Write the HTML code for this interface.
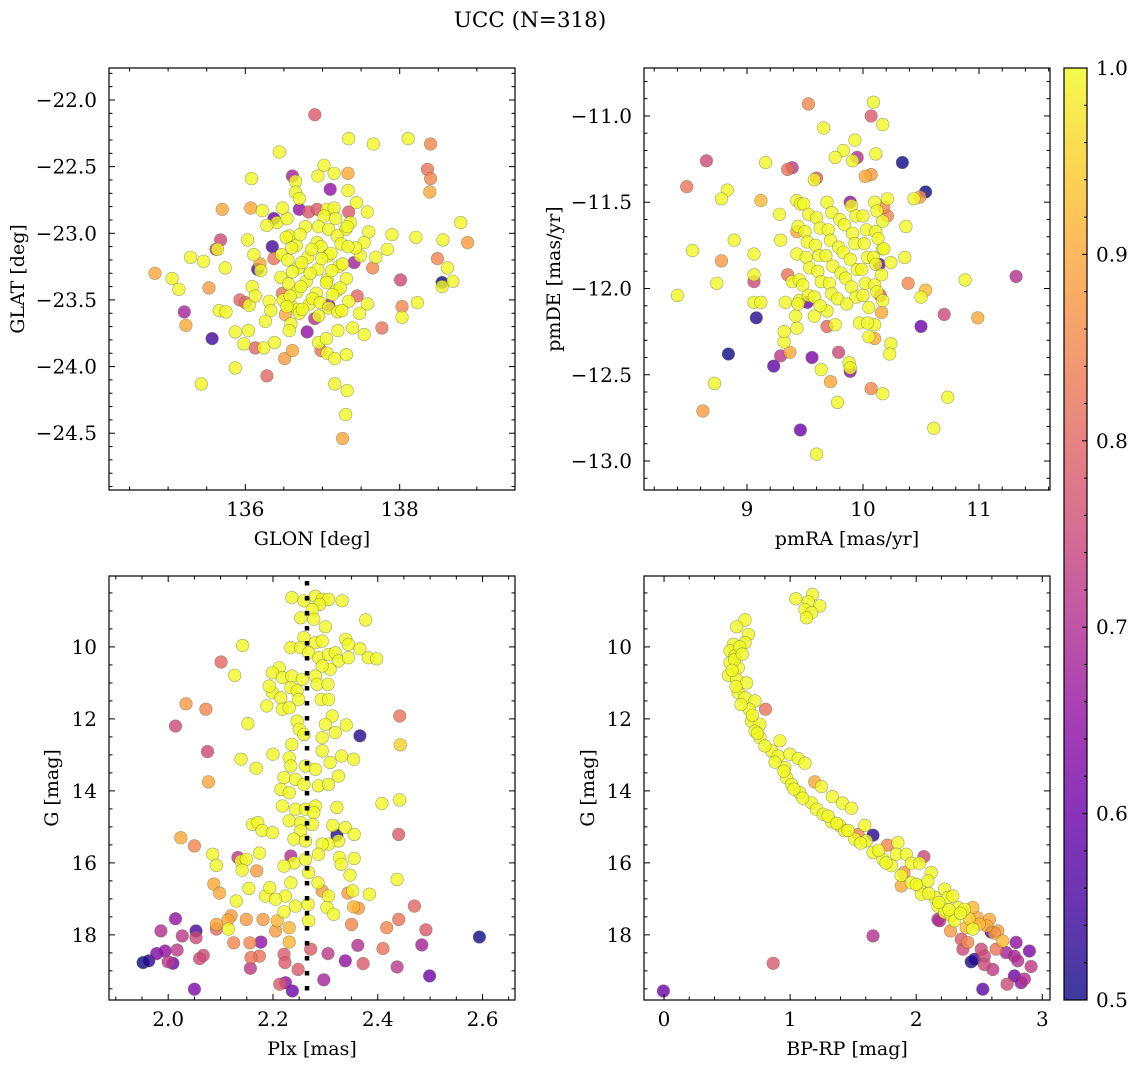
<!DOCTYPE html>
<html><head><meta charset="utf-8"><title>UCC (N=318)</title>
<style>
html,body{margin:0;padding:0;background:#fff;}
svg{display:block;font-family:"DejaVu Serif","Liberation Serif",serif;}
</style></head>
<body>
<svg id="chart" width="1136" height="1067" viewBox="0 0 1136 1067" xmlns="http://www.w3.org/2000/svg">
<defs>
<linearGradient id="plasma" x1="0" y1="1" x2="0" y2="0">
<stop offset="0" stop-color="#0d0887"/><stop offset="0.1" stop-color="#41049d"/><stop offset="0.2" stop-color="#6a00a8"/><stop offset="0.3" stop-color="#8f0da4"/><stop offset="0.4" stop-color="#b12a90"/><stop offset="0.5" stop-color="#cc4778"/><stop offset="0.6" stop-color="#e16462"/><stop offset="0.7" stop-color="#f2844b"/><stop offset="0.8" stop-color="#fca636"/><stop offset="0.9" stop-color="#fcce25"/><stop offset="1" stop-color="#f0f921"/>
</linearGradient>
</defs>
<text x="530" y="27" text-anchor="middle" font-size="21.5">UCC (N=318)</text>
</svg>
<script>
// ---------- Panel 1: GLON vs GLAT ----------
const p1Lon=[136.90,137.34,137.66,138.11,138.40,138.36,138.40,138.39,136.44,137.02,136.94,137.15,137.33,136.61,137.10,137.33,136.08,136.65,136.65,136.70,137.44,137.58,137.34,135.70,136.07,136.22,138.79,138.88,138.56,138.21,137.90,137.84,137.60,138.49,138.62,138.69,138.55,138.55,138.01,138.03,138.03,138.23,137.77,137.65,137.69,136.03,135.68,135.62,135.64,135.29,135.46,135.74,136.11,134.83,135.05,135.14,135.53,135.21,135.23,135.57,135.66,135.75,135.93,136.00,136.05,136.16,136.19,136.20,136.09,136.13,136.35,136.37,136.48,136.31,136.33,136.26,135.87,136.04,135.98,136.13,136.24,136.38,136.51,136.61,135.87,135.43,136.28,136.59,136.68,136.52,136.59,136.57,136.80,136.90,136.95,136.98,137.06,137.05,137.16,137.31,137.20,137.39,137.54,137.58,137.48,137.16,137.32,137.30,137.26,137.36,137.30,136.82,136.93,136.70,136.37,136.41,136.28,136.54,136.48,136.57,137.06,137.15,137.02,137.17,136.78,136.95,137.08,137.32,137.54,137.49,137.43,137.41,137.45,137.08,
136.53,136.66,136.71,136.93,136.98,137.19,137.24,
136.47,136.60,136.81,136.86,137.07,137.11,137.33,
136.55,136.69,136.73,136.94,136.99,137.21,137.26,
136.46,136.61,136.79,136.84,137.06,137.12,137.31,
136.56,136.67,136.72,136.92,137.05,137.18,137.23,
136.49,136.58,136.83,136.87,136.97,137.13,137.34,
136.54,136.70,136.74,136.95,137.08,137.20,137.25];
const p1Lat=[-22.11,-22.29,-22.33,-22.29,-22.33,-22.52,-22.59,-22.69,-22.39,-22.49,-22.57,-22.55,-22.55,-22.57,-22.67,-22.68,-22.59,-22.61,-22.69,-22.74,-22.77,-22.84,-22.84,-22.82,-22.81,-22.83,-22.92,-23.07,-23.05,-23.03,-23.01,-23.12,-22.99,-23.19,-23.26,-23.36,-23.37,-23.40,-23.35,-23.55,-23.63,-23.52,-23.71,-23.26,-23.18,-23.05,-23.05,-23.12,-23.12,-23.18,-23.21,-23.26,-23.16,-23.30,-23.34,-23.42,-23.41,-23.59,-23.69,-23.79,-23.58,-23.59,-23.50,-23.52,-23.54,-23.27,-23.23,-23.28,-23.40,-23.47,-23.10,-23.19,-23.45,-23.51,-23.58,-23.66,-23.74,-23.73,-23.83,-23.86,-23.86,-23.82,-23.94,-23.88,-24.01,-24.13,-24.07,-23.54,-23.57,-23.61,-23.68,-23.73,-23.74,-23.64,-23.82,-23.88,-23.90,-23.79,-23.94,-23.91,-23.73,-23.71,-23.76,-23.53,-23.60,-24.13,-24.18,-24.36,-24.54,-22.92,-22.97,-22.84,-22.82,-22.82,-22.89,-22.92,-22.94,-22.89,-22.81,-23.02,-22.82,-22.81,-22.87,-22.89,-22.95,-22.95,-22.97,-22.95,-23.07,-23.17,-23.11,-23.22,-23.47,-23.54,
-23.03,-23.09,-23.01,-23.07,-23.10,-23.02,-23.08,
-23.16,-23.11,-23.18,-23.12,-23.17,-23.15,-23.10,
-23.20,-23.26,-23.22,-23.27,-23.19,-23.25,-23.23,
-23.33,-23.29,-23.36,-23.30,-23.35,-23.28,-23.34,
-23.38,-23.44,-23.40,-23.45,-23.37,-23.43,-23.41,
-23.50,-23.47,-23.53,-23.49,-23.52,-23.46,-23.51,
-23.55,-23.60,-23.57,-23.62,-23.56,-23.59,-23.58];
const p1Prob=[.78,1,1,1,.85,.82,.85,.9,1,1,1,1,.9,.68,.65,1,1,1,1,1,1,1,.78,.9,.9,1,1,.88,1,1,1,1,1,.85,1,1,.5,1,.75,.85,1,1,.82,.85,1,1,.75,.72,1,1,1,1,1,.9,1,1,.88,.68,.9,.55,1,1,.8,.8,1,.55,.9,1,1,1,.55,.82,.82,1,1,1,1,1,1,.8,1,1,.88,.9,1,1,.8,1,1,.9,1,1,.65,.7,1,.82,1,1,1,1,1,1,1,1,1,1,1,1,.9,1,1,.78,.78,.65,.6,1,1,1,1,1,1,1,1,1,1,1,1,1,1,1,1,.68,.8,.65,
1,1,1,1,1,1,1,1,1,1,1,1,1,1,1,1,1,1,1,1,1,1,1,1,1,1,1,1,1,1,1,1,1,1,1,1,1,1,1,1,1,1,1,1,1,1,1,1,1];
const p1XTicks=[136,138];
const p1XTickLabels=['136','138'];
const p1YTicks=[-22.0,-22.5,-23.0,-23.5,-24.0,-24.5];
const p1YTickLabels=['\u221222.0','\u221222.5','\u221223.0','\u221223.5','\u221224.0','\u221224.5'];

// ---------- Panel 2: pmRA vs pmDE ----------
const p2Ra=[9.53,10.09,10.07,10.17,9.66,9.93,9.83,9.76,9.95,9.91,10.11,10.34,8.65,9.16,9.39,9.35,8.48,8.83,8.78,9.12,9.28,9.60,9.58,10.02,10.07,10.54,10.49,10.44,10.21,10.21,10.18,10.37,8.89,9.29,8.53,8.78,9.06,9.06,9.06,8.74,8.40,9.06,9.12,9.33,9.08,8.84,9.29,9.23,9.32,9.32,9.37,9.42,9.43,9.58,9.56,9.64,9.72,9.78,9.79,9.69,9.76,9.88,9.89,9.89,10.07,10.17,8.72,8.62,9.46,9.60,10.61,10.73,10.99,10.70,10.50,10.50,10.54,10.39,10.88,11.32,10.24,10.23,10.05,10.10,10.10,10.16,10.15,9.97,10.04,10.36,10.24,10.17,10.14,9.45,9.52,9.69,9.35,9.39,9.43,9.43,9.46,9.89,
9.49,9.53,9.69,9.73,9.90,9.94,10.10,10.12,
9.44,9.60,9.63,9.80,9.84,10.00,10.03,10.17,
9.50,9.52,9.70,9.72,9.91,9.93,10.11,10.13,
9.43,9.59,9.62,9.79,9.83,10.01,10.04,10.18,
9.51,9.54,9.68,9.74,9.89,9.95,10.09,10.11,
9.45,9.61,9.64,9.81,9.85,9.99,10.02,10.16,
9.48,9.53,9.71,9.73,9.90,9.94,10.10,10.12,
9.44,9.58,9.63,9.78,9.86,10.00,10.05,10.17];
const p2De=[-10.93,-10.92,-11.00,-11.05,-11.07,-11.14,-11.20,-11.24,-11.24,-11.26,-11.22,-11.27,-11.26,-11.27,-11.30,-11.31,-11.41,-11.43,-11.48,-11.49,-11.57,-11.36,-11.37,-11.35,-11.34,-11.44,-11.47,-11.48,-11.48,-11.58,-11.53,-11.64,-11.72,-11.72,-11.78,-11.84,-11.80,-11.92,-11.96,-11.97,-12.04,-12.08,-12.08,-12.08,-12.17,-12.38,-12.39,-12.45,-12.31,-12.25,-12.37,-12.16,-12.23,-12.16,-12.40,-12.47,-12.54,-12.66,-12.37,-12.22,-12.21,-12.43,-12.48,-12.46,-12.58,-12.61,-12.55,-12.71,-12.82,-12.96,-12.81,-12.63,-12.17,-12.15,-12.22,-12.05,-12.01,-11.97,-11.95,-11.93,-12.32,-12.38,-12.28,-12.29,-12.21,-12.14,-12.04,-12.20,-12.20,-11.82,-11.85,-11.77,-11.86,-12.07,-12.08,-12.13,-11.92,-11.96,-11.67,-11.49,-11.51,-11.50,
-11.51,-11.57,-11.50,-11.56,-11.52,-11.58,-11.50,-11.55,
-11.64,-11.59,-11.65,-11.60,-11.63,-11.58,-11.66,-11.61,
-11.67,-11.73,-11.66,-11.72,-11.68,-11.74,-11.67,-11.71,
-11.80,-11.75,-11.81,-11.76,-11.79,-11.74,-11.82,-11.77,
-11.82,-11.88,-11.81,-11.87,-11.83,-11.89,-11.82,-11.86,
-11.95,-11.90,-11.96,-11.91,-11.94,-11.89,-11.97,-11.92,
-11.98,-12.04,-11.97,-12.03,-11.99,-12.05,-11.98,-12.02,
-12.09,-12.05,-12.10,-12.06,-12.09,-12.04,-12.11,-12.07];
const p2Prob=[.85,1,.78,1,1,1,1,1,.7,1,1,.5,.75,1,.72,.82,.82,1,1,.92,1,.78,1,.9,.88,.5,.88,1,1,.85,.85,1,1,1,1,.88,1,1,.75,1,1,1,1,1,.52,.5,.72,.58,1,1,.9,1,1,1,.62,1,.9,1,.75,.8,1,1,.65,1,.85,1,1,.88,.6,1,1,1,.9,.75,.6,1,.92,.85,1,.7,1,1,1,.9,1,.9,.78,1,1,1,1,1,.6,1,.6,1,.82,1,.9,1,1,.65,
1,1,1,1,1,1,1,1,1,1,1,1,1,1,1,1,1,1,1,1,1,1,1,1,1,1,1,1,1,1,1,1,1,1,1,1,1,1,1,1,1,1,1,1,1,1,1,1,1,1,1,1,1,1,1,1,1,1,1,1,1,1,1,1];
const p2XTicks=[9,10,11];
const p2XTickLabels=['9','10','11'];
const p2YTicks=[-11.0,-11.5,-12.0,-12.5,-13.0];
const p2YTickLabels=['\u221211.0','\u221211.5','\u221212.0','\u221212.5','\u221213.0'];

// ---------- Panel 3: Plx vs G ----------
const p3Plx=[2.236,2.259,2.281,2.294,2.306,2.332,2.289,2.275,2.253,2.278,2.300,2.377,2.259,2.281,2.294,2.234,2.253,2.268,2.287,2.306,2.319,2.325,2.339,2.344,2.366,2.344,2.382,2.398,2.309,2.294,2.281,2.142,2.101,2.127,2.212,2.199,2.218,2.236,2.199,2.193,2.215,2.234,2.246,2.256,2.284,2.305,2.292,2.306,2.249,2.188,2.218,2.231,2.034,2.072,2.014,2.152,2.075,2.077,2.139,2.168,2.200,2.442,2.443,2.366,2.340,2.313,2.300,2.319,2.294,2.246,2.250,2.236,2.259,2.294,2.309,2.331,2.354,2.231,2.234,2.262,2.281,2.221,2.243,2.259,2.287,2.306,2.325,2.215,2.231,2.218,2.243,2.262,2.281,2.278,2.322,2.408,2.442,2.231,2.253,2.275,2.161,2.171,2.179,2.199,2.253,2.314,2.338,2.355,2.322,2.325,2.306,2.294,2.240,2.262,2.024,2.050,2.085,2.092,2.133,2.139,2.149,2.141,2.174,2.169,2.234,2.240,2.221,2.262,2.287,2.327,2.330,2.355,2.440,2.437,2.347,2.268,2.234,2.224,2.286,2.294,2.306,2.303,2.316,2.268,2.267,2.243,2.221,2.186,2.194,2.205,2.154,2.130,2.087,2.098,2.343,2.352,2.384,2.354,2.363,2.470,2.440,2.417,2.350,2.492,2.594,2.484,2.410,2.362,2.338,2.372,2.437,2.499,2.305,2.297,2.272,2.248,2.224,2.237,2.213,2.221,2.223,2.231,2.231,2.205,2.208,2.177,2.181,2.174,2.158,2.156,2.157,2.149,2.120,2.114,2.115,2.092,2.092,2.125,2.053,2.053,2.027,2.014,1.986,2.017,1.994,1.978,2.000,2.009,1.963,1.952,2.067,2.060,2.050];
const p3G=[8.63,8.72,8.59,8.68,8.68,8.72,8.82,8.96,9.19,9.23,9.44,9.25,9.74,9.88,9.84,10.02,10.02,10.16,10.30,10.21,10.16,10.39,9.79,9.93,10.05,10.30,10.30,10.33,10.62,10.53,10.81,9.96,10.42,10.79,10.58,10.72,10.85,10.81,11.27,11.09,11.41,11.13,11.22,10.90,11.04,11.04,11.46,11.46,11.46,11.64,11.73,11.69,11.58,11.73,12.20,12.13,12.91,13.75,13.12,13.37,12.98,11.92,12.72,12.47,12.17,11.92,12.15,12.38,12.52,12.06,12.29,12.71,12.43,12.89,13.21,13.03,13.12,13.08,13.31,13.31,13.40,13.63,13.68,13.82,13.86,13.82,13.59,13.96,14.05,14.42,14.51,14.51,14.42,14.60,14.46,14.35,14.25,14.83,14.88,14.93,14.93,14.88,15.10,15.16,15.11,14.96,15.02,15.21,15.23,15.39,15.48,15.48,15.34,15.39,15.30,15.53,15.76,16.07,15.85,15.95,15.90,16.20,15.73,16.22,15.81,16.00,16.09,15.90,15.76,15.85,16.04,15.88,15.21,16.46,16.34,16.27,16.55,16.92,16.55,16.78,16.92,17.24,17.43,17.61,17.15,17.20,17.36,16.92,16.69,17.01,16.71,17.06,16.59,16.84,16.84,16.78,16.87,17.22,17.26,17.20,17.57,17.80,17.71,17.86,18.06,18.28,18.38,18.29,18.72,18.80,18.89,19.14,18.52,19.25,18.40,18.96,19.33,19.56,19.37,18.54,18.77,18.20,17.80,17.89,17.61,18.20,17.57,18.59,18.63,18.22,18.93,17.57,17.47,17.59,17.84,17.71,17.84,18.22,17.89,18.08,18.03,17.55,17.89,18.42,18.45,18.52,18.75,18.79,18.72,18.77,18.57,18.66,19.51];
const p3Prob=[1,1,1,1,1,1,1,1,1,1,1,1,1,1,1,1,1,1,1,1,1,1,1,1,1,1,1,1,1,1,1,1,.8,1,1,1,1,1,1,1,1,1,1,1,1,1,1,1,1,1,1,1,.88,.85,.75,1,.75,.9,1,1,1,.82,.95,.52,1,1,1,1,1,1,1,1,1,1,1,1,1,1,1,1,1,1,1,1,1,1,1,1,1,1,1,1,1,1,1,1,1,1,1,1,1,1,1,1,1,1,1,1,.52,1,1,1,1,1,.9,.85,1,1,.72,1,1,1,1,.88,.7,1,1,1,1,1,1,1,.78,1,1,1,1,1,1,.88,1,1,1,1,1,1,1,1,1,1,1,1,.9,.9,.88,1,1,.92,.88,.8,.82,.85,.85,.78,.5,.68,.82,.7,.65,.78,.72,.6,.72,.68,.78,.78,.65,.6,.78,.78,.78,.92,.92,.88,.92,.65,.88,.82,.82,.85,.72,.88,.88,.9,1,.9,.8,.85,.55,.75,.72,.65,.7,.72,.65,.62,.72,.6,.52,.5,.75,.75,.62];
const p3XTicks=[2.0,2.2,2.4,2.6];
const p3XTickLabels=['2.0','2.2','2.4','2.6'];
const p3YTicks=[10,12,14,16,18];
const p3YTickLabels=['10','12','14','16','18'];
const p3PlxMedian=[2.265];

// ---------- Panel 4: BP-RP vs G ----------
const p4Col=[1.045,1.177,1.143,1.235,1.117,1.170,1.130,0.642,0.576,0.668,0.642,0.549,0.523,0.562,0.523,0.589,0.510,0.576,0.655,0.589,0.642,0.721,0.676,0.805,0.694,0.760,0.721,0.760,0.919,0.853,0.905,0.998,1.064,1.117,0.958,0.971,1.011,1.077,1.196,1.248,1.335,1.415,1.486,1.169,1.209,1.262,1.328,1.394,1.433,1.512,1.539,1.591,1.604,1.657,1.657,1.736,1.802,1.771,1.855,1.842,1.921,1.961,2.061,2.027,1.903,1.882,1.961,2.027,2.040,2.119,2.093,2.146,2.172,2.225,2.251,2.290,2.225,2.277,2.330,2.383,2.449,2.304,2.483,2.581,2.449,2.396,2.272,2.172,2.594,2.647,2.686,2.409,2.357,2.370,2.515,2.541,2.634,2.713,2.792,2.898,2.779,2.805,2.911,2.436,2.462,2.541,2.607,2.779,2.858,2.832,2.721,2.528,2.185,1.657,0.866,-0.005,
0.560,0.600,0.540,0.620,0.570,0.610,0.700,0.740,0.800,0.880,0.950,1.030,1.100,1.300,1.370,1.460,1.560,1.700,1.760,1.880,2.000,2.100,2.180,2.260,2.350,2.420,2.500,2.560,2.620];
const p4G=[8.66,8.54,8.75,8.86,8.96,9.05,9.19,9.25,9.44,9.65,9.88,9.93,10.11,10.25,10.44,10.58,10.79,10.90,11.00,11.27,11.41,11.50,11.73,11.73,12.06,12.15,12.34,12.52,12.61,12.89,13.03,12.98,13.10,13.23,13.35,13.63,13.82,14.05,13.75,13.88,14.16,14.34,14.48,14.33,14.51,14.65,14.86,14.97,15.11,15.34,15.21,14.96,15.39,15.23,15.71,15.90,16.08,15.51,15.44,15.76,15.76,16.01,15.83,16.01,16.27,16.64,16.55,16.64,16.87,16.27,16.50,16.96,17.20,16.73,16.96,16.92,17.38,17.47,17.24,17.29,17.24,17.61,17.52,17.57,17.84,17.80,17.89,17.57,17.92,17.89,18.17,18.21,18.12,18.40,18.40,18.59,18.40,18.49,18.21,18.45,18.59,18.72,18.88,18.75,18.68,18.82,18.96,19.14,19.23,19.33,19.37,19.51,17.61,18.03,18.79,19.56,
10.35,10.00,10.65,10.20,11.10,11.60,11.90,12.40,12.75,13.20,13.45,13.95,14.20,14.70,14.90,15.10,15.45,15.65,16.00,16.35,16.60,16.85,17.10,17.30,17.40,17.55,17.70,17.75,17.95];
const p4Prob=[1,1,1,1,1,1,1,1,1,1,1,1,1,1,1,1,1,1,1,1,1,1,1,.82,1,1,1,1,1,1,1,1,1,1,1,1,1,1,.9,1,1,1,1,1,1,1,1,1,1,1,.85,1,1,.52,1,1,1,.85,1,1,1,1,.75,1,.88,.9,1,1,1,1,1,1,1,1,1,1,1,1,1,1,.92,1,.9,.9,1,.92,.88,.7,.55,.88,.92,.85,.78,.75,.75,.75,.82,.68,.65,.62,.68,.7,.72,.5,.52,.75,.72,.6,.7,.65,.75,.58,.7,.7,.78,.6,
1,1,1,1,1,1,1,1,1,1,1,1,1,1,1,1,1,1,1,1,1,1,1,1,1,.95,.92,.9,.88];
const p4XTicks=[0,1,2,3];
const p4XTickLabels=['0','1','2','3'];
const p4YTicks=[10,12,14,16,18];
const p4YTickLabels=['10','12','14','16','18'];

// ---------- Colorbar ----------
const cbTicks=[0.5,0.6,0.7,0.8,0.9,1.0];
const cbTickLabels=['0.5','0.6','0.7','0.8','0.9','1.0'];

const NS='http://www.w3.org/2000/svg';
const svg=document.getElementById('chart');
const FS=20;
const plasmaStops=['#0d0887','#41049d','#6a00a8','#8f0da4','#b12a90','#cc4778','#e16462','#f2844b','#fca636','#fcce25','#f0f921'];
function hex(c){return [parseInt(c.substr(1,2),16),parseInt(c.substr(3,2),16),parseInt(c.substr(5,2),16)];}
function plasma(p){
  let t=(p-0.5)/0.5; t=Math.max(0,Math.min(1,t));
  const f=t*10; const i=Math.min(9,Math.floor(f)); const r=f-i;
  const a=hex(plasmaStops[i]), b=hex(plasmaStops[i+1]);
  return 'rgb('+a.map((v,k)=>Math.round(v+(b[k]-v)*r)).join(',')+')';
}
function el(tag,parent){const e=document.createElementNS(NS,tag);parent.appendChild(e);return e;}

function drawPanel(cfg){
  const g=el('g',svg);
  
  
  const sx=v=>cfg.px0+(v-cfg.xmin)/(cfg.xmax-cfg.xmin)*(cfg.px1-cfg.px0);
  const sy=v=>cfg.py0+(v-cfg.ytop)/(cfg.ybot-cfg.ytop)*(cfg.py1-cfg.py0);
  const clip=el('clipPath',g); clip.setAttribute('id','clip-'+cfg.name);
  const cr=el('rect',clip); cr.setAttribute('x',cfg.px0);cr.setAttribute('y',cfg.py0);cr.setAttribute('width',cfg.px1-cfg.px0);cr.setAttribute('height',cfg.py1-cfg.py0);
  const pts=el('g',g);
  
  
  pts.setAttribute('clip-path','url(#clip-'+cfg.name+')');
  const idx=cfg.xs.map((_,i)=>i).sort((a,b)=>cfg.ps[a]-cfg.ps[b]);
  idx.forEach(i=>{
    const c=el('circle',pts);
    
    
    c.setAttribute('cx',sx(cfg.xs[i]).toFixed(1));
    c.setAttribute('cy',sy(cfg.ys[i]).toFixed(1));
    c.setAttribute('r',6.3);
    c.setAttribute('fill',plasma(cfg.ps[i]));
    c.setAttribute('fill-opacity',0.8);
    c.setAttribute('stroke','#6b6b4a');
    c.setAttribute('stroke-opacity',0.6);
    c.setAttribute('stroke-width',0.6);
  });
  if(cfg.vline){
    cfg.vline.forEach(v=>{
      const l=el('line',g);
      
      
      l.setAttribute('x1',sx(v));l.setAttribute('x2',sx(v));
      l.setAttribute('y1',cfg.py0+5);l.setAttribute('y2',cfg.py1);
      l.setAttribute('stroke','#000');l.setAttribute('stroke-width',4.5);l.setAttribute('stroke-dasharray','4.5 10.5');
    });
  }
  const tk=el('g',g);
  
  
  function tickLine(x1,y1,x2,y2){const l=el('line',tk);l.setAttribute('x1',x1);l.setAttribute('y1',y1);l.setAttribute('x2',x2);l.setAttribute('y2',y2);l.setAttribute('stroke','#000');l.setAttribute('stroke-width',1);}
  const eps=1e-9;
  for(let v=Math.ceil(cfg.xmin/cfg.xminor-eps)*cfg.xminor; v<=cfg.xmax+eps; v+=cfg.xminor){
    const x=sx(v); const major=cfg.xticks.some(t=>Math.abs(t-v)<cfg.xminor/10); const L=major?6:3.5;
    tickLine(x,cfg.py1,x,cfg.py1-L); tickLine(x,cfg.py0,x,cfg.py0+L);
  }
  const ylo=Math.min(cfg.ytop,cfg.ybot), yhi=Math.max(cfg.ytop,cfg.ybot);
  for(let v=Math.ceil(ylo/cfg.yminor-eps)*cfg.yminor; v<=yhi+eps; v+=cfg.yminor){
    const y=sy(v); const major=cfg.yticks.some(t=>Math.abs(t-v)<cfg.yminor/10); const L=major?6:3.5;
    tickLine(cfg.px0,y,cfg.px0+L,y); tickLine(cfg.px1,y,cfg.px1-L,y);
  }
  const fr=el('rect',g);
  
  
  fr.setAttribute('x',cfg.px0);fr.setAttribute('y',cfg.py0);fr.setAttribute('width',cfg.px1-cfg.px0);fr.setAttribute('height',cfg.py1-cfg.py0);
  fr.setAttribute('fill','none');fr.setAttribute('stroke','#000');fr.setAttribute('stroke-width',1.2);
  cfg.xticks.forEach((v,i)=>{
    const t=el('text',g);
    
    
    t.setAttribute('x',sx(v));t.setAttribute('y',cfg.py1+26);t.setAttribute('text-anchor','middle');t.setAttribute('font-size',FS);
    t.textContent=cfg.xlabels[i];
  });
  cfg.yticks.forEach((v,i)=>{
    const t=el('text',g);
    
    
    t.setAttribute('x',cfg.px0-12);t.setAttribute('y',sy(v)+7);t.setAttribute('text-anchor','end');t.setAttribute('font-size',FS);
    t.textContent=cfg.ylabels[i];
  });
  const xt=el('text',g);
  
  
  xt.setAttribute('x',(cfg.px0+cfg.px1)/2);xt.setAttribute('y',cfg.py1+55);xt.setAttribute('text-anchor','middle');xt.setAttribute('font-size',19);
  xt.textContent=cfg.xtitle;
  const yt=el('text',g);
  
  
  const cy=(cfg.py0+cfg.py1)/2;
  yt.setAttribute('x',cfg.ytx);yt.setAttribute('y',cy);yt.setAttribute('text-anchor','middle');yt.setAttribute('font-size',19);
  yt.setAttribute('transform','rotate(-90 '+cfg.ytx+' '+cy+')');
  yt.textContent=cfg.ytitle;
}

drawPanel({name:'glon-glat-panel',px0:109,px1:515,py0:68,py1:490,xmin:134.234,xmax:139.494,ytop:-21.76,ybot:-24.926,
  xs:p1Lon,ys:p1Lat,ps:p1Prob,xticks:p1XTicks,xlabels:p1XTickLabels,yticks:p1YTicks,ylabels:p1YTickLabels,xminor:0.5,yminor:0.1,
  xtitle:'GLON [deg]',ytitle:'GLAT [deg]',ytx:24});
drawPanel({name:'pm-panel',px0:644,px1:1050,py0:68,py1:490,xmin:8.112,xmax:11.612,ytop:-10.722,ybot:-13.168,
  xs:p2Ra,ys:p2De,ps:p2Prob,xticks:p2XTicks,xlabels:p2XTickLabels,yticks:p2YTicks,ylabels:p2YTickLabels,xminor:0.2,yminor:0.1,
  xtitle:'pmRA [mas/yr]',ytitle:'pmDE [mas/yr]',ytx:560});
drawPanel({name:'plx-g-panel',px0:109,px1:515,py0:576,py1:1000,xmin:1.887,xmax:2.662,ytop:8.03,ybot:19.81,
  xs:p3Plx,ys:p3G,ps:p3Prob,xticks:p3XTicks,xlabels:p3XTickLabels,yticks:p3YTicks,ylabels:p3YTickLabels,xminor:0.05,yminor:0.5,
  xtitle:'Plx [mas]',ytitle:'G [mag]',ytx:58,vline:p3PlxMedian});
drawPanel({name:'cmd-panel',px0:644,px1:1050,py0:576,py1:1000,xmin:-0.159,xmax:3.061,ytop:8.03,ybot:19.81,
  xs:p4Col,ys:p4G,ps:p4Prob,xticks:p4XTicks,xlabels:p4XTickLabels,yticks:p4YTicks,ylabels:p4YTickLabels,xminor:0.2,yminor:0.5,
  xtitle:'BP-RP [mag]',ytitle:'G [mag]',ytx:594});

(function(){
  const g=el('g',svg);
  
  
  const x0=1064,x1=1087,y0=68,y1=1000;
  const r=el('rect',g);
  
  
  r.setAttribute('x',x0);r.setAttribute('y',y0);r.setAttribute('width',x1-x0);r.setAttribute('height',y1-y0);
  r.setAttribute('fill','url(#plasma)');r.setAttribute('fill-opacity',0.8);
  const fr=el('rect',g);
  fr.setAttribute('x',x0);fr.setAttribute('y',y0);fr.setAttribute('width',x1-x0);fr.setAttribute('height',y1-y0);
  fr.setAttribute('fill','none');fr.setAttribute('stroke','#000');fr.setAttribute('stroke-width',1.2);
  const sy=v=>y1-(v-0.5)/0.5*(y1-y0);
  for(let k=0;k<=25;k++){
    const v=0.5+k*0.02; const y=sy(v); const major=(k%5===0);
    const l=el('line',g);l.setAttribute('x1',x1);l.setAttribute('x2',x1-(major?5:3));l.setAttribute('y1',y);l.setAttribute('y2',y);l.setAttribute('stroke','#000');
  }
  cbTicks.forEach((v,i)=>{
    const y=sy(v);
    const t=el('text',g);
    
    
    t.setAttribute('x',x1+9);t.setAttribute('y',y+7);t.setAttribute('font-size',FS);
    t.textContent=cbTickLabels[i];
  });
})();
</script>
</body></html>
